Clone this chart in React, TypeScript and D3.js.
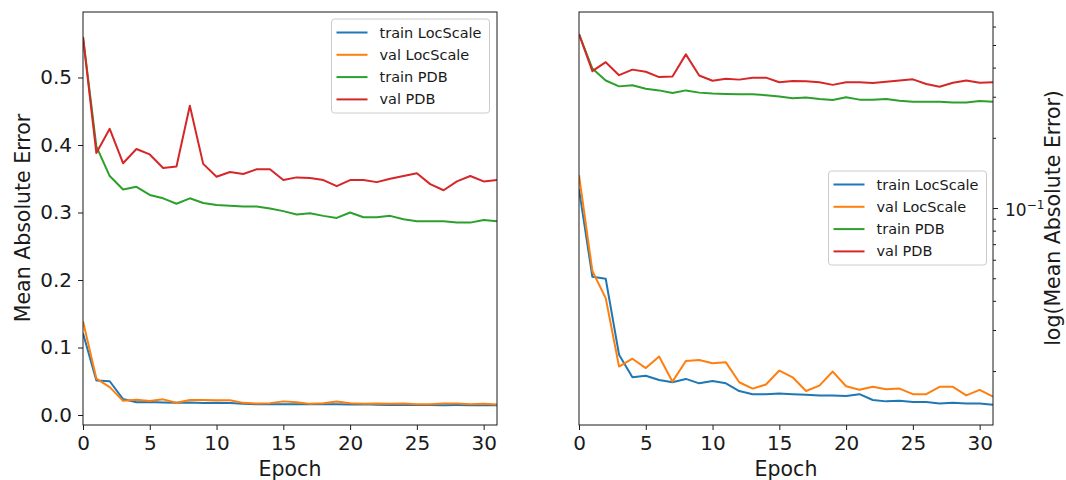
import React, { useRef, useEffect } from "react";
import * as d3 from "d3";

// values, epochs 0..31
const trainLocScale = [0.121, 0.051, 0.050, 0.0236, 0.0189, 0.0192, 0.0184, 0.0180, 0.0186, 0.0178, 0.0182, 0.0178, 0.0165, 0.0160, 0.0160, 0.0161, 0.0160, 0.0159, 0.0158, 0.0158, 0.0157, 0.0160, 0.0151, 0.0149, 0.0150, 0.0148, 0.0148, 0.0146, 0.0147, 0.0146, 0.0146, 0.0144];
const valLocScale = [0.139, 0.054, 0.0413, 0.0210, 0.0227, 0.0207, 0.0232, 0.0181, 0.0222, 0.0224, 0.0217, 0.0219, 0.0180, 0.0169, 0.0176, 0.0202, 0.0189, 0.0165, 0.0174, 0.0200, 0.0173, 0.0167, 0.0172, 0.0168, 0.0169, 0.0160, 0.0160, 0.0172, 0.0172, 0.0158, 0.0167, 0.0156];
const trainPDB = [0.560, 0.398, 0.354, 0.334, 0.338, 0.326, 0.321, 0.313, 0.321, 0.314, 0.311, 0.310, 0.309, 0.309, 0.306, 0.302, 0.297, 0.299, 0.295, 0.292, 0.300, 0.293, 0.293, 0.295, 0.290, 0.287, 0.287, 0.287, 0.285, 0.285, 0.289, 0.287];
const valPDB = [0.560, 0.388, 0.424, 0.373, 0.394, 0.386, 0.366, 0.368, 0.458, 0.372, 0.353, 0.360, 0.357, 0.364, 0.364, 0.348, 0.352, 0.351, 0.348, 0.339, 0.348, 0.348, 0.345, 0.350, 0.354, 0.358, 0.342, 0.333, 0.346, 0.354, 0.346, 0.348];

const seriesNames = ["train LocScale", "val LocScale", "train PDB", "val PDB"];
const seriesColors = ["#1f77b4", "#ff7f0e", "#2ca02c", "#d62728"];

const xTicks = [0, 5, 10, 15, 20, 25, 30];
const linearTicks = [0, 0.1, 0.2, 0.3, 0.4, 0.5];
const logMajorTicks = [0.1];
const logMinorTicks = [0.02, 0.03, 0.04, 0.05, 0.06, 0.07, 0.08, 0.09, 0.2, 0.3, 0.4, 0.5, 0.6];

const FONT = "DejaVu Sans, sans-serif";
const TICK_FS = "20px";
const LABEL_FS = "20.5px";

const App = () => {
  const svgRef = useRef();

  useEffect(() => {
    const w = 1066;
    const h = 480;
    const svg = d3.select(svgRef.current).attr("width", w).attr("height", h);
    svg.selectAll("*").remove();

    const allSeries = [trainLocScale, valLocScale, trainPDB, valPDB];
    const top = 12, bottom = 425;

    function drawPanel(x0, x1, yScale, legendPos) {
      const xScale = d3.scaleLinear().domain([0, 31]).range([x0, x1]);
      const g = svg.append("g");

      const clipId = "clip" + x0;
      g.append("clipPath").attr("id", clipId)
        .append("rect").attr("x", x0).attr("y", top).attr("width", x1 - x0).attr("height", bottom - top);

      const line = d3.line().x((d, i) => xScale(i)).y(d => yScale(d));
      g.append("g").attr("clip-path", `url(#${clipId})`)
        .selectAll("path")
        .data(allSeries)
        .join("path")
        .attr("d", d => line(d))
        .attr("fill", "none")
        .attr("stroke", (d, i) => seriesColors[i])
        .attr("stroke-width", 2)
        .attr("stroke-linejoin", "round");

      // x axis
      const xAxis = d3.axisBottom(xScale).tickValues(xTicks).tickSize(5).tickSizeOuter(0).tickPadding(6);
      g.append("g")
        .attr("transform", `translate(0,${bottom})`)
        .call(xAxis)
        .call(a => a.select(".domain").remove())
        .call(a => a.selectAll("text").attr("font-size", TICK_FS).attr("font-family", FONT).attr("fill", "#1a1a1a"))
        .call(a => a.selectAll("line").attr("stroke", "#1a1a1a"));

      g.append("text")
        .attr("x", (x0 + x1) / 2)
        .attr("y", 476)
        .attr("text-anchor", "middle")
        .attr("font-family", FONT)
        .attr("font-size", LABEL_FS)
        .attr("fill", "#1a1a1a")
        .text("Epoch");

      // frame
      g.append("rect")
        .attr("x", x0).attr("y", top)
        .attr("width", x1 - x0).attr("height", bottom - top)
        .attr("fill", "none").attr("stroke", "#1a1a1a").attr("stroke-width", 1);

      // legend
      const lg = g.append("g").attr("transform", `translate(${legendPos[0]},${legendPos[1]})`);
      lg.append("rect")
        .attr("width", 158).attr("height", 94)
        .attr("rx", 3)
        .attr("fill", "white").attr("fill-opacity", 0.8)
        .attr("stroke", "#cccccc");
      const items = lg.selectAll("g.item")
        .data(seriesNames)
        .join("g")
        .attr("class", "item")
        .attr("transform", (d, i) => `translate(0,${13.5 + i * 22.3})`);
      items.append("line")
        .attr("x1", 5).attr("x2", 36)
        .attr("stroke", (d, i) => seriesColors[i])
        .attr("stroke-width", 2);
      items.append("text")
        .attr("x", 48).attr("dy", "0.35em")
        .attr("font-family", FONT).attr("font-size", "14.5px")
        .attr("fill", "#1a1a1a")
        .text(d => d);
    }

    // left panel, linear scale
    const yLin = d3.scaleLinear().domain([-0.0148, 0.597]).range([bottom, top]);
    drawPanel(83, 497, yLin, [331.5, 19]);
    const yAxisL = d3.axisLeft(yLin).tickValues(linearTicks).tickFormat(d3.format(".1f")).tickSize(5).tickPadding(6);
    svg.append("g")
      .attr("transform", "translate(83,0)")
      .call(yAxisL)
      .call(a => a.select(".domain").remove())
      .call(a => a.selectAll("text").attr("font-size", TICK_FS).attr("font-family", FONT).attr("fill", "#1a1a1a"))
      .call(a => a.selectAll("line").attr("stroke", "#1a1a1a"));
    svg.append("text")
      .attr("transform", "translate(30,218) rotate(-90)")
      .attr("text-anchor", "middle")
      .attr("font-family", FONT).attr("font-size", LABEL_FS).attr("fill", "#1a1a1a")
      .text("Mean Absolute Error");

    // right panel, log scale with axis on the right
    const yLog = d3.scaleLog().domain([0.0118, 0.696]).range([bottom, top]);
    drawPanel(579, 993, yLog, [828.5, 171]);
    const ra = svg.append("g").attr("transform", "translate(993,0)");
    ra.selectAll("line.minor")
      .data(logMinorTicks)
      .join("line")
      .attr("class", "minor")
      .attr("x1", 0).attr("x2", 3)
      .attr("y1", d => yLog(d)).attr("y2", d => yLog(d))
      .attr("stroke", "#1a1a1a");
    ra.selectAll("line.major")
      .data(logMajorTicks)
      .join("line")
      .attr("class", "major")
      .attr("x1", 0).attr("x2", 5)
      .attr("y1", d => yLog(d)).attr("y2", d => yLog(d))
      .attr("stroke", "#1a1a1a");
    const majorLabel = ra.selectAll("text.major")
      .data(logMajorTicks)
      .join("text")
      .attr("class", "major")
      .attr("x", 12)
      .attr("y", d => yLog(d) + 7)
      .attr("font-family", FONT).attr("font-size", "17px").attr("fill", "#1a1a1a");
    majorLabel.append("tspan").text(d => "10");
    majorLabel.append("tspan")
      .attr("dy", "-7")
      .attr("font-size", "12px")
      .text(d => "\u2212" + Math.round(-Math.log10(d)));
    svg.append("text")
      .attr("transform", "translate(1060,218) rotate(-90)")
      .attr("text-anchor", "middle")
      .attr("font-family", FONT).attr("font-size", LABEL_FS).attr("fill", "#1a1a1a")
      .text("log(Mean Absolute Error)");
  }, []);

  return (
    <div style={{ position: "absolute", left: 0, top: 0, background: "white" }}>
      <svg ref={svgRef}></svg>
    </div>
  );
};

export default App;
